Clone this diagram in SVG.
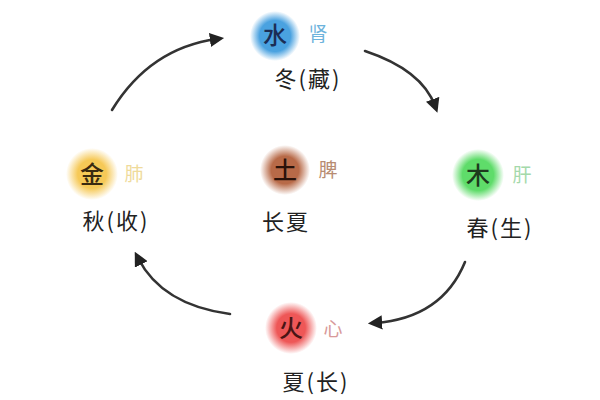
<svg xmlns="http://www.w3.org/2000/svg" width="600" height="400" viewBox="0 0 600 400">
<style>
text{font-family:"Noto Sans CJK SC","Noto Sans",sans-serif;text-anchor:middle}
.el{font-size:24px;font-weight:500}
.org{font-size:19px}
.sea{font-size:22px;fill:#222;letter-spacing:2px}
.arr{fill:none;stroke:#333;stroke-width:2.6;stroke-linecap:round;marker-end:url(#ah)}
</style>
<defs>
<marker id="ah" viewBox="0 0 10 10" refX="5" refY="5" markerWidth="5.5" markerHeight="5.5" orient="auto" markerUnits="strokeWidth">
<path d="M0,0 L10,5 L0,10 z" fill="#222"/>
</marker>
<radialGradient id="gBlue"><stop offset="0.62" stop-color="#4aa2e0"/><stop offset="1" stop-color="#4aa2e0" stop-opacity="0"/></radialGradient>
<radialGradient id="gGreen"><stop offset="0.6" stop-color="#5fdc6a"/><stop offset="1" stop-color="#5fdc6a" stop-opacity="0"/></radialGradient>
<radialGradient id="gRed"><stop offset="0.55" stop-color="#ee5757"/><stop offset="1" stop-color="#ee5757" stop-opacity="0"/></radialGradient>
<radialGradient id="gYellow"><stop offset="0.55" stop-color="#f6c957"/><stop offset="1" stop-color="#f6c957" stop-opacity="0"/></radialGradient>
<radialGradient id="gBrown"><stop offset="0.55" stop-color="#b86a48"/><stop offset="1" stop-color="#b86a48" stop-opacity="0"/></radialGradient>
</defs>
<rect width="600" height="400" fill="#fff"/>
<g id="connectors">
<path class="arr" d="M112,110 Q150,48 217,39"/>
<path class="arr" d="M365,51 Q422,70 435,106"/>
<path class="arr" d="M465,262 Q442,318 375,323"/>
<path class="arr" d="M230,314 Q162,305 138,258"/>
</g>
<g id="water">
<circle cx="275" cy="36" r="25" fill="url(#gBlue)"/>
<text class="el" x="275" y="44" fill="#1b2d55">水</text>
<text class="org" x="318" y="41" fill="#6db3dc">肾</text>
<text class="sea" x="308" y="87">冬(藏)</text>
</g>
<g id="wood">
<circle cx="478" cy="175" r="26" fill="url(#gGreen)"/>
<text class="el" x="478" y="184" fill="#1d3a1d">木</text>
<text class="org" x="522" y="182" fill="#a4d9aa">肝</text>
<text class="sea" x="500" y="236">春(生)</text>
</g>
<g id="fire">
<circle cx="291" cy="328" r="26" fill="url(#gRed)"/>
<text class="el" x="291" y="337" fill="#4a1515">火</text>
<text class="org" x="333" y="336" fill="#d89a9a">心</text>
<text class="sea" x="316" y="390">夏(长)</text>
</g>
<g id="metal">
<circle cx="92" cy="174" r="26" fill="url(#gYellow)"/>
<text class="el" x="92" y="183" fill="#3a2a10">金</text>
<text class="org" x="134" y="181" fill="#efdb9c">肺</text>
<text class="sea" x="116" y="229">秋(收)</text>
</g>
<g id="earth">
<circle cx="285" cy="170" r="25" fill="url(#gBrown)"/>
<text class="el" x="285" y="179" fill="#2a120a">土</text>
<text class="org" x="328" y="177" fill="#b88c72">脾</text>
<text class="sea" x="286" y="230">长夏</text>
</g>
</svg>
